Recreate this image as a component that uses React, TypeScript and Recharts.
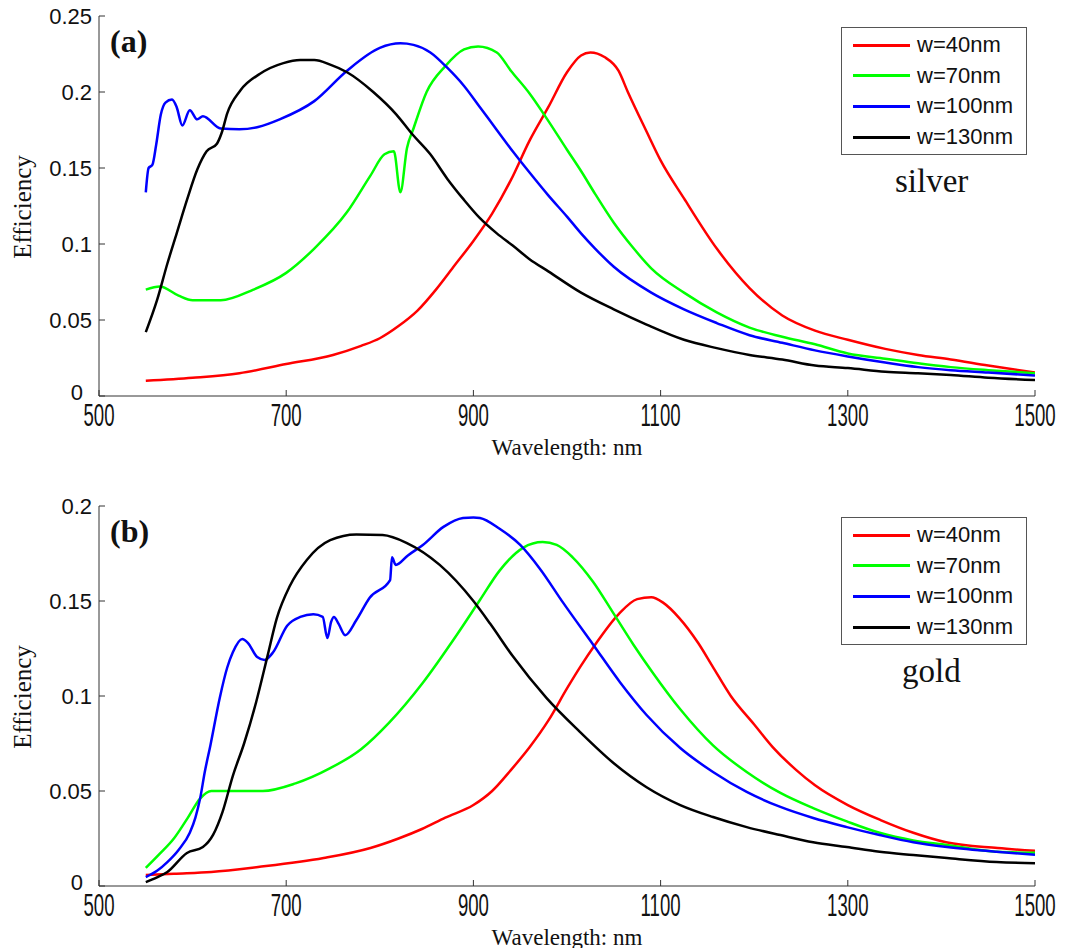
import React from 'react';
import { LineChart, Line, XAxis, YAxis, Legend } from 'recharts';

// wavelength (nm), efficiency pairs
const silverW40 = [
  [550, 0.010], [600, 0.012], [650, 0.015], [700, 0.021], [750, 0.027], [780, 0.033], [800, 0.038],
  [820, 0.046], [840, 0.056], [860, 0.070], [880, 0.086], [900, 0.102], [920, 0.120], [940, 0.142],
  [960, 0.168], [980, 0.190], [1000, 0.213], [1015, 0.224], [1025, 0.226], [1040, 0.223], [1055, 0.214],
  [1065, 0.200], [1085, 0.174], [1100, 0.155], [1125, 0.130], [1160, 0.097], [1195, 0.071], [1230, 0.053],
  [1265, 0.043], [1300, 0.037], [1340, 0.031], [1375, 0.027], [1410, 0.024], [1450, 0.020], [1500, 0.0155],
];
const silverW70 = [
  [550, 0.070], [565, 0.072], [585, 0.066], [600, 0.063], [630, 0.063], [665, 0.070], [700, 0.081],
  [730, 0.097], [765, 0.121], [790, 0.145], [805, 0.159], [815, 0.161], [822, 0.134], [829, 0.163],
  [836, 0.176], [850, 0.200], [870, 0.217], [890, 0.228], [905, 0.230], [925, 0.226], [940, 0.214],
  [960, 0.199], [980, 0.181], [1000, 0.162], [1015, 0.148], [1030, 0.133], [1050, 0.114], [1070, 0.098],
  [1090, 0.084], [1125, 0.068], [1160, 0.055], [1195, 0.045], [1230, 0.039], [1265, 0.034], [1300, 0.028],
  [1340, 0.0245], [1375, 0.0215], [1410, 0.019], [1450, 0.017], [1500, 0.015],
];
const silverW100 = [
  [550, 0.134], [553, 0.150], [557, 0.152], [561, 0.165], [566, 0.185], [571, 0.193], [578, 0.195],
  [583, 0.190], [589, 0.178], [597, 0.188], [605, 0.182], [611, 0.184], [630, 0.176], [650, 0.1755],
  [670, 0.177], [693, 0.182], [730, 0.194], [765, 0.214], [800, 0.229], [822, 0.232], [836, 0.231],
  [854, 0.226], [872, 0.216], [890, 0.204], [907, 0.190], [925, 0.175], [942, 0.161], [960, 0.147],
  [980, 0.132], [1000, 0.118], [1015, 0.107], [1030, 0.097], [1050, 0.085], [1090, 0.068], [1125, 0.057],
  [1160, 0.048], [1195, 0.040], [1230, 0.035], [1265, 0.030], [1300, 0.026], [1340, 0.022], [1375, 0.019],
  [1410, 0.017], [1450, 0.0155], [1500, 0.0135],
];
const silverW130 = [
  [550, 0.042], [562, 0.063], [573, 0.087], [583, 0.107], [594, 0.129], [605, 0.149], [615, 0.161],
  [626, 0.166], [631, 0.173], [637, 0.186], [651, 0.201], [672, 0.212], [697, 0.219], [715, 0.221],
  [730, 0.221], [747, 0.218], [765, 0.213], [793, 0.200], [818, 0.185], [835, 0.172], [854, 0.159],
  [872, 0.143], [890, 0.129], [907, 0.117], [925, 0.107], [942, 0.099], [960, 0.090], [980, 0.082],
  [1015, 0.068], [1050, 0.057], [1085, 0.047], [1125, 0.037], [1160, 0.0315], [1195, 0.027], [1230, 0.024],
  [1265, 0.020], [1300, 0.0184], [1340, 0.016], [1375, 0.015], [1410, 0.0138], [1450, 0.012], [1500, 0.0105],
];

const goldW40 = [
  [550, 0.0058], [580, 0.0065], [620, 0.0074], [670, 0.010], [740, 0.0147], [790, 0.020], [820, 0.025],
  [845, 0.030], [870, 0.036], [900, 0.0426], [920, 0.050], [940, 0.061], [960, 0.073], [980, 0.087],
  [1000, 0.104], [1015, 0.116], [1030, 0.127], [1055, 0.143], [1075, 0.151], [1090, 0.152], [1103, 0.149],
  [1120, 0.141], [1140, 0.128], [1155, 0.116], [1175, 0.100], [1200, 0.085], [1220, 0.073], [1245, 0.061],
  [1265, 0.053], [1300, 0.0426], [1335, 0.0347], [1370, 0.028], [1405, 0.023], [1460, 0.020], [1500, 0.0185],
];
const goldW70 = [
  [550, 0.0095], [565, 0.017], [580, 0.025], [595, 0.036], [608, 0.046], [620, 0.050], [675, 0.050],
  [710, 0.054], [747, 0.062], [780, 0.072], [810, 0.086], [846, 0.107], [882, 0.132], [907, 0.1505],
  [928, 0.166], [953, 0.178], [974, 0.181], [989, 0.1795], [1006, 0.173], [1028, 0.160], [1049, 0.144],
  [1071, 0.127], [1092, 0.112], [1121, 0.093], [1156, 0.074], [1192, 0.060], [1228, 0.049], [1263, 0.041],
  [1299, 0.034], [1334, 0.028], [1370, 0.024], [1406, 0.0216], [1459, 0.018], [1500, 0.0175],
];
const goldW100 = [
  [550, 0.0047], [562, 0.008], [573, 0.0126], [585, 0.019], [597, 0.028], [603, 0.036], [608, 0.046],
  [613, 0.060], [619, 0.074], [629, 0.099], [637, 0.115], [643, 0.123], [653, 0.130], [659, 0.128],
  [669, 0.1205], [677, 0.119], [686, 0.123], [701, 0.137], [715, 0.1416], [729, 0.143], [739, 0.1416],
  [744, 0.1305], [748, 0.139], [751, 0.1416], [756, 0.138], [763, 0.132], [775, 0.140], [789, 0.1516],
  [811, 0.161], [813, 0.173], [817, 0.169], [830, 0.174], [846, 0.1795], [868, 0.189], [889, 0.1937],
  [900, 0.194], [907, 0.1937], [928, 0.188], [950, 0.1795], [971, 0.167], [996, 0.149], [1028, 0.127],
  [1057, 0.107], [1085, 0.090], [1121, 0.0726], [1156, 0.060], [1192, 0.0495], [1228, 0.0416],
  [1263, 0.0358], [1299, 0.031], [1334, 0.0268], [1370, 0.023], [1406, 0.0205], [1459, 0.018], [1500, 0.0165],
];
const goldW130 = [
  [550, 0.002], [562, 0.0045], [573, 0.0074], [594, 0.0174], [611, 0.0205], [622, 0.027], [632, 0.039],
  [643, 0.058], [655, 0.075], [668, 0.097], [680, 0.121], [690, 0.141], [704, 0.158], [722, 0.1716],
  [747, 0.182], [775, 0.185], [803, 0.1847], [829, 0.1805], [864, 0.169], [900, 0.150], [918, 0.138],
  [942, 0.121], [978, 0.099], [1014, 0.081], [1049, 0.065], [1085, 0.052], [1121, 0.0426], [1156, 0.0363],
  [1192, 0.031], [1228, 0.0268], [1263, 0.023], [1299, 0.0205], [1334, 0.018], [1370, 0.0163],
  [1406, 0.0147], [1459, 0.0126], [1500, 0.012],
];

const seriesNames = ['w=40nm', 'w=70nm', 'w=100nm', 'w=130nm'];
const seriesColors = ['#ff0000', '#00ff00', '#0000ff', '#000000'];
const xTicks = [500, 700, 900, 1100, 1300, 1500];
const silverYTicks = [0, 0.05, 0.1, 0.15, 0.2, 0.25];
const goldYTicks = [0, 0.05, 0.1, 0.15, 0.2];

const toRows = (pairs) => pairs.map(([x, y]) => ({ x, y }));

const sans = '"Liberation Sans", Arial, sans-serif';
const serif = '"Liberation Serif", "Times New Roman", serif';
const axisColor = '#333';

// matlab-ish narrow tick labels under the x axis
const XTick = ({ x, y, payload }) => (
  <g transform={`translate(${x},${y})`}>
    <text transform="scale(0.6,1)" textAnchor="middle" dy="0.72em" fontSize={31} fontFamily={sans} fill="#111">
      {payload.value}
    </text>
  </g>
);

// the 0 label is nudged up-left so it clears the 500 below it
const YTick = ({ x, y, payload }) => {
  const isZero = payload.value === 0;
  return (
    <text x={isZero ? x - 9 : x} y={y} dy={isZero ? '0.2em' : '0.355em'} textAnchor="end" fontSize={22} fontFamily={sans} fill="#111">
      {payload.value}
    </text>
  );
};
const NoTick = () => <g />;

const LegendBox = () => (
  <div style={{ width: 184, height: 126, border: '1px solid #555', background: '#fff', position: 'relative' }}>
    {seriesNames.map((name, i) => (
      <div key={name} style={{ position: 'absolute', left: 11, top: 4 + i * 30.7, height: 26, display: 'flex', alignItems: 'center' }}>
        <div style={{ width: 57, height: 0, borderTop: `3px solid ${seriesColors[i]}` }} />
        <span style={{ marginLeft: 7, fontFamily: sans, fontSize: 22, color: '#111', lineHeight: '26px' }}>{name}</span>
      </div>
    ))}
  </div>
);

const Panel = ({ top, series, yMax, yTicks, tag, metal, metalLeft }) => (
  <div style={{ position: 'absolute', left: 0, top, width: 1078, height: 470 }}>
    <LineChart width={1078} height={470} margin={{ top: 16, right: 43, bottom: 34, left: 0 }}>
      <XAxis
        dataKey="x"
        type="number"
        domain={[500, 1500]}
        ticks={xTicks}
        allowDataOverflow
        height={40}
        tickSize={-6}
        tickMargin={14}
        tick={XTick}
        axisLine={{ stroke: axisColor }}
        tickLine={{ stroke: axisColor }}
      />
      <XAxis
        xAxisId="top"
        orientation="top"
        type="number"
        domain={[500, 1500]}
        ticks={xTicks}
        height={0}
        tickSize={-6}
        tick={NoTick}
        axisLine={{ stroke: axisColor }}
        tickLine={{ stroke: axisColor }}
      />
      <YAxis
        type="number"
        domain={[0, yMax]}
        ticks={yTicks}
        allowDataOverflow
        width={99}
        tickSize={-6}
        tickMargin={13}
        tick={YTick}
        axisLine={{ stroke: axisColor }}
        tickLine={{ stroke: axisColor }}
      />
      <YAxis
        yAxisId="right"
        orientation="right"
        type="number"
        domain={[0, yMax]}
        ticks={yTicks}
        width={0}
        tickSize={-6}
        tick={NoTick}
        axisLine={{ stroke: axisColor }}
        tickLine={{ stroke: axisColor }}
      />
      {series.map((pairs, i) => (
        <Line
          key={seriesNames[i]}
          name={seriesNames[i]}
          data={toRows(pairs)}
          dataKey="y"
          type="monotone"
          stroke={seriesColors[i]}
          strokeWidth={2.5}
          dot={false}
          isAnimationActive={false}
        />
      ))}
      <Legend
        layout="vertical"
        align="center"
        verticalAlign="middle"
        content={() => <LegendBox />}
        wrapperStyle={{ left: 841, top: 27, width: 186, height: 128 }}
      />
    </LineChart>
    <div style={{ position: 'absolute', left: 110, top: 25, fontFamily: serif, fontWeight: 'bold', fontSize: 32, lineHeight: 1, color: '#111' }}>
      {tag}
    </div>
    <div style={{ position: 'absolute', left: metalLeft, top: 165, fontFamily: serif, fontSize: 33, lineHeight: 1, color: '#111' }}>
      {metal}
    </div>
    <div
      style={{
        position: 'absolute', left: 22, top: 207, fontFamily: serif, fontSize: 25, lineHeight: 1, color: '#111',
        transform: 'translate(-50%, -50%) rotate(-90deg)', whiteSpace: 'nowrap',
      }}
    >
      Efficiency
    </div>
    <div
      style={{
        position: 'absolute', left: 567, top: 447, fontFamily: serif, fontSize: 23, lineHeight: 1, color: '#111',
        transform: 'translate(-50%, -50%)', whiteSpace: 'nowrap',
      }}
    >
      Wavelength: nm
    </div>
  </div>
);

export default function App() {
  return (
    <div style={{ position: 'absolute', left: 0, top: 0, width: 1078, height: 948, background: '#fff' }}>
      <Panel
        top={0}
        series={[silverW40, silverW70, silverW100, silverW130]}
        yMax={0.25}
        yTicks={silverYTicks}
        tag="(a)"
        metal="silver"
        metalLeft={895}
      />
      <Panel
        top={490}
        series={[goldW40, goldW70, goldW100, goldW130]}
        yMax={0.2}
        yTicks={goldYTicks}
        tag="(b)"
        metal="gold"
        metalLeft={902}
      />
    </div>
  );
}
